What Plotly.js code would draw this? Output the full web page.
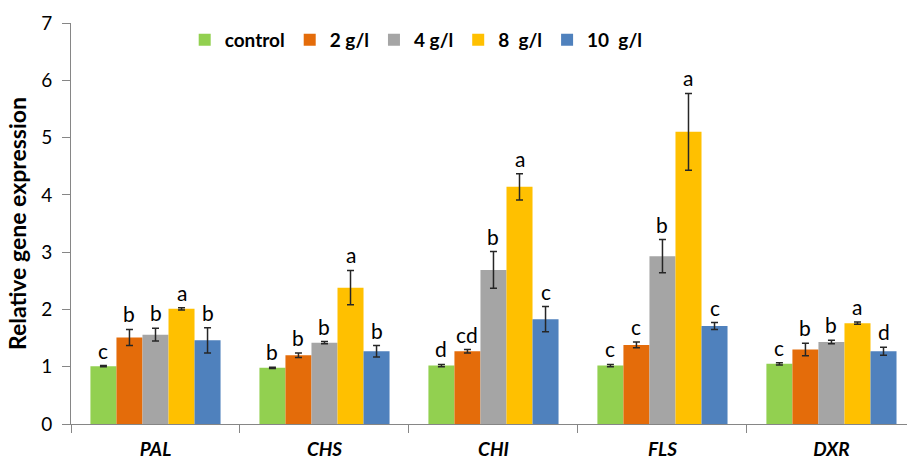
<!DOCTYPE html>
<html>
<head>
<meta charset="utf-8">
<script src="https://cdn.plot.ly/plotly-3.0.1.min.js"></script>
<style>html,body{margin:0;padding:0;background:#fff;}#chart{width:907px;height:463px;}</style>
</head>
<body>
<div id="chart"></div>
<script>
const genes = ["PAL", "CHS", "CHI", "FLS", "DXR"];
const seriesNames = ["control", "2 g/l", "4 g/l", "8\u00a0\u00a0g/l", "10\u00a0\u00a0g/l"];
const colors = ["#92D050", "#E46C0A", "#A5A5A5", "#FFC000", "#4F81BD"];

const controlVals = [1.01, 0.98, 1.02, 1.02, 1.05];
const g2Vals      = [1.51, 1.20, 1.27, 1.38, 1.30];
const g4Vals      = [1.56, 1.42, 2.69, 2.93, 1.43];
const g8Vals      = [2.01, 2.38, 4.14, 5.10, 1.76];
const g10Vals     = [1.46, 1.27, 1.83, 1.71, 1.27];

const controlErr = [0.01, 0.01, 0.02, 0.02, 0.02];
const g2Err      = [0.14, 0.04, 0.03, 0.05, 0.11];
const g4Err      = [0.11, 0.02, 0.32, 0.29, 0.03];
const g8Err      = [0.02, 0.30, 0.23, 0.67, 0.02];
const g10Err     = [0.22, 0.10, 0.22, 0.06, 0.07];

const controlLetters = ["c", "b", "d", "c", "c"];
const g2Letters      = ["b", "b", "cd", "c", "b"];
const g4Letters      = ["b", "b", "b", "b", "b"];
const g8Letters      = ["a", "a", "a", "a", "a"];
const g10Letters     = ["b", "b", "c", "c", "d"];

const values = [controlVals, g2Vals, g4Vals, g8Vals, g10Vals];
const errors = [controlErr, g2Err, g4Err, g8Err, g10Err];
const letters = [controlLetters, g2Letters, g4Letters, g8Letters, g10Letters];

const FONT = "Lato, 'Open Sans', sans-serif";
const bargap = 0.23;
const nS = values.length;
const bw = (1 - bargap) / nS;

const traces = values.map((v, i) => ({
  type: "bar",
  name: seriesNames[i],
  x: genes,
  y: v,
  marker: {color: colors[i]},
  error_y: {type: "data", array: errors[i], visible: true, color: "#262626", thickness: 1.5, width: 3.5}
}));

const annotations = [];
values.forEach((v, i) => {
  v.forEach((val, c) => {
    annotations.push({
      x: c + (i - (nS - 1) / 2) * bw,
      y: val + errors[i][c],
      xref: "x", yref: "y",
      text: letters[i][c],
      showarrow: false,
      yanchor: "bottom",
      yshift: 1,
      font: {family: FONT, size: 21, color: "#000"}
    });
  });
});

const layout = {
  width: 907, height: 463,
  margin: {l: 71, r: 0, t: 23, b: 39},
  paper_bgcolor: "#fff", plot_bgcolor: "#fff",
  barmode: "group",
  bargap: bargap,
  bargroupgap: 0,
  showlegend: true,
  legend: {
    orientation: "h", x: 0.136, y: 1.005, xanchor: "left", yanchor: "top",
    font: {family: FONT, size: 19, color: "#000", weight: "bold"},
    bgcolor: "rgba(0,0,0,0)", traceorder: "normal"
  },
  xaxis: {
    type: "category",
    range: [-0.5, 4.447],
    tickson: "boundaries",
    ticks: "outside", ticklen: 8, tickcolor: "#868686",
    showline: true, linecolor: "#868686", linewidth: 1,
    showgrid: false, zeroline: false,
    tickfont: {family: FONT, size: 19, color: "#000", weight: "bold", style: "italic"},
    ticklabelstandoff: 8
  },
  yaxis: {
    range: [0, 7], dtick: 1, tick0: 0,
    ticks: "outside", ticklen: 8, tickcolor: "#868686",
    showline: true, linecolor: "#868686", linewidth: 1,
    showgrid: false, zeroline: false,
    tickfont: {family: FONT, size: 19, color: "#000"},
    ticklabelstandoff: 6,
    title: {text: "Relative gene expression", font: {family: FONT, size: 23, color: "#000", weight: "bold"}, standoff: 8}
  },
  annotations: annotations
};

Plotly.newPlot("chart", traces, layout, {displayModeBar: false, staticPlot: true});
</script>
</body>
</html>
